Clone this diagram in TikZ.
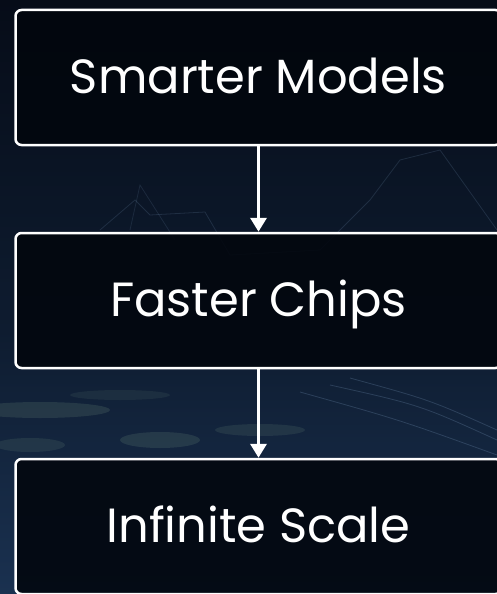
\documentclass[tikz,border=0pt]{standalone}
\usepackage{fontspec}
\setmainfont{Poppins}
\usetikzlibrary{arrows.meta}
\definecolor{bgtop}{HTML}{060C18}
\definecolor{bgmid}{HTML}{0E1C30}
\definecolor{bgbot}{HTML}{1A3150}
\definecolor{boxfill}{HTML}{02060D}
\definecolor{glow}{HTML}{5E7A70}
\definecolor{streak}{HTML}{7C9CC0}
\tikzset{
  stage/.style={draw=white, line width=2.5pt, rounded corners=6pt, fill=boxfill, fill opacity=0.88, text opacity=1,
    minimum width=486pt, minimum height=135pt, text=white, font=\fontsize{48}{48}\selectfont,
    text height=34pt, text depth=3pt, inner sep=0pt},
  flow/.style={draw=white, line width=3.5pt, -{Triangle[width=16pt,length=14pt]}},
  faint/.style={draw=streak, opacity=0.25, line width=0.8pt}
}
\begin{document}
\begin{tikzpicture}[x=1pt,y=-1pt]
\useasboundingbox (0,0) rectangle (497,594);
\clip (0,0) rectangle (497,594);
% background
\shade[top color=bgtop, bottom color=bgmid] (0,0) rectangle (497,330);
\shade[top color=bgmid, bottom color=bgbot] (0,330) rectangle (497,594);
% faint background texture
\fill[glow, opacity=0.25] (40,410) ellipse (70 and 8);
\fill[glow, opacity=0.25] (160,440) ellipse (40 and 8);
\fill[glow, opacity=0.2] (30,445) ellipse (35 and 7);
\fill[glow, opacity=0.2] (260,430) ellipse (45 and 6);
\fill[glow, opacity=0.15] (120,395) ellipse (50 and 5);
\draw[faint] (330,385) .. controls (420,405) .. (497,440);
\draw[faint] (350,378) .. controls (430,400) .. (497,430);
\draw[faint] (300,392) .. controls (400,420) .. (497,455);
\draw[faint, opacity=0.18] (100,230) -- (135,200) -- (150,215) -- (205,212) -- (230,255) -- (320,250) -- (370,200) -- (400,160) -- (440,150) -- (497,230);
\draw[faint, opacity=0.15] (130,230) -- (140,185) -- (175,240);
% stages
\node[stage] (smart) at (258.5,77.5) {Smarter Models};
\node[stage] (chips) at (258.5,300.5) {Faster Chips};
\node[stage] (scale) at (258.5,526.5) {Infinite Scale};
% connectors
\draw[flow] (smart.south) -- (chips.north);
\draw[flow] (chips.south) -- (scale.north);
\end{tikzpicture}
\end{document}
